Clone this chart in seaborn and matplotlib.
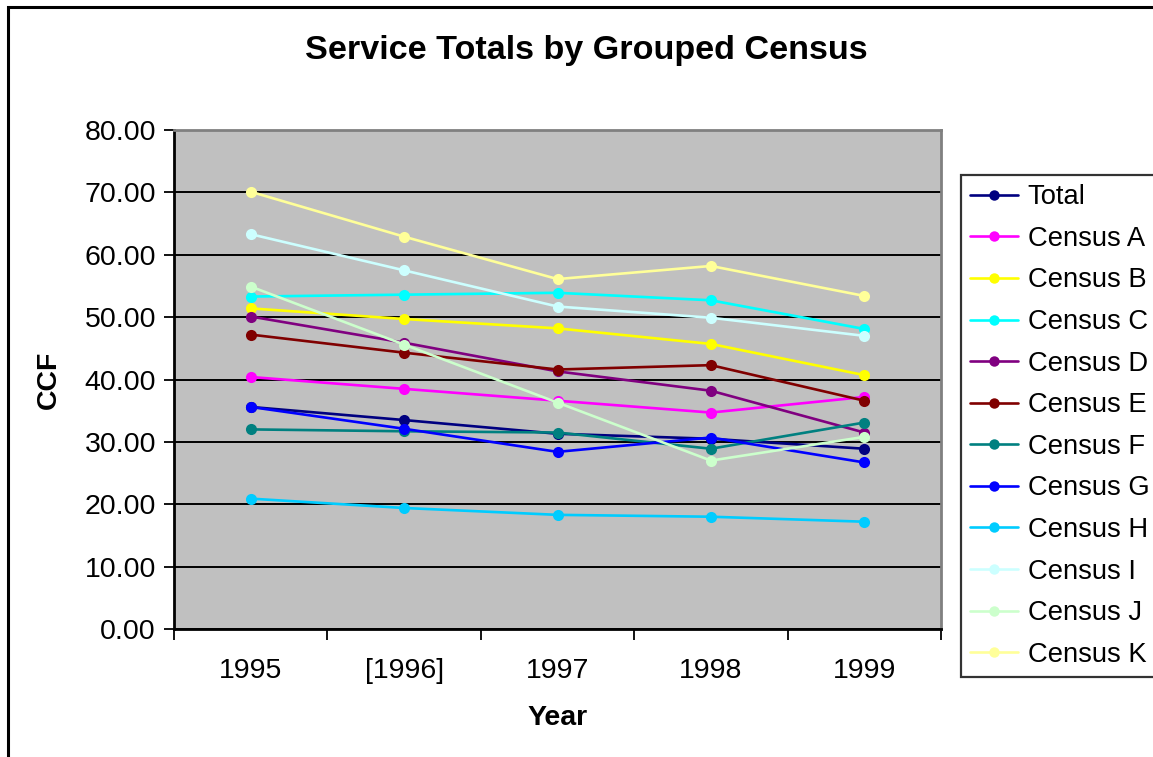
import matplotlib
matplotlib.use("Agg")
import matplotlib.pyplot as plt
from matplotlib.lines import Line2D
from matplotlib.patches import Rectangle
import seaborn as sns
import pandas as pd
import numpy as np

years = ["1995", "[1996]", "1997", "1998", "1999"]
series_names = ["Total", "Census A", "Census B", "Census C", "Census D", "Census E",
                "Census F", "Census G", "Census H", "Census I", "Census J", "Census K"]
total = [35.6, 33.5, 31.3, 30.5, 28.9]
census_a = [40.4, 38.5, 36.6, 34.7, 37.2]
census_b = [51.4, 49.7, 48.2, 45.7, 40.7]
census_c = [53.3, 53.6, 53.9, 52.7, 48.1]
census_d = [50.1, 45.9, 41.3, 38.2, 31.5]
census_e = [47.2, 44.3, 41.6, 42.3, 36.6]
census_f = [32.0, 31.7, 31.5, 28.9, 33.1]
census_g = [35.6, 32.1, 28.4, 30.7, 26.7]
census_h = [20.9, 19.4, 18.3, 18.0, 17.2]
census_i = [63.3, 57.5, 51.7, 49.9, 47.0]
census_j = [54.9, 45.6, 36.3, 27.0, 30.8]
census_k = [70.1, 62.9, 56.1, 58.2, 53.4]
all_values = [total, census_a, census_b, census_c, census_d, census_e,
              census_f, census_g, census_h, census_i, census_j, census_k]
colors = ["#000080", "#FF00FF", "#FFFF00", "#00FFFF", "#800080", "#800000",
          "#008080", "#0000FF", "#00CCFF", "#CCFFFF", "#CCFFCC", "#FFFF99"]

rows = []
for name, vals in zip(series_names, all_values):
    for i, v in enumerate(vals):
        rows.append({"series": name, "pos": i, "value": v})
df = pd.DataFrame(rows)

sns.set_style("white")
plt.rcParams["font.family"] = ["Liberation Sans", "DejaVu Sans"]
for k in ["text.color", "axes.labelcolor", "xtick.color", "ytick.color"]:
    plt.rcParams[k] = "black"

W, H = 1153, 757
fig = plt.figure(figsize=(W / 100, H / 100), dpi=100)
fig.patch.set_facecolor("white")

# outer chart frame (extends beyond right/bottom edges)
fig.add_artist(Rectangle((8 / W, -0.05), 1.2, (H - 7) / H + 0.05, transform=fig.transFigure,
                         fill=False, edgecolor="black", linewidth=2.2))

ax_l, ax_r, ax_t, ax_b = 174, 941, 130, 629
ax = fig.add_axes([ax_l / W, (H - ax_b) / H, (ax_r - ax_l) / W, (ax_b - ax_t) / H])
ax.set_facecolor("#C0C0C0")

sns.lineplot(data=df, x="pos", y="value", hue="series", hue_order=series_names,
             palette=dict(zip(series_names, colors)), marker="o", markersize=8,
             markeredgewidth=0, linewidth=1.9, ax=ax, legend=False, sort=False,
             errorbar=None)

ax.set_xlim(-0.5, 4.5)
ax.set_ylim(0, 80)
ax.set_yticks(np.arange(0, 81, 10))
ax.set_yticklabels([f"{v:.2f}" for v in np.arange(0, 81, 10)])
ax.yaxis.grid(True, color="black", linewidth=1.4)
ax.set_axisbelow(True)
ax.set_xticks(np.arange(-0.5, 5, 1))
ax.set_xticklabels([])
ax.set_xticks(np.arange(5), minor=True)
ax.set_xticklabels(years, minor=True)
ax.tick_params(axis="x", which="major", bottom=True, length=8, width=1.3, direction="out", color="black")
ax.tick_params(axis="x", which="minor", bottom=True, length=0, pad=21, labelsize=20.5)
ax.tick_params(axis="y", left=True, length=7, width=1.3, direction="out", color="black", labelsize=20.5, pad=6)
for s in ["left", "bottom"]:
    ax.spines[s].set_color("black")
    ax.spines[s].set_linewidth(2)
for s in ["top", "right"]:
    ax.spines[s].set_color("#808080")
    ax.spines[s].set_linewidth(2)

ax.set_xlabel("Year", fontsize=20.5, fontweight="bold", labelpad=15)
ax.set_ylabel("CCF", fontsize=20.5, fontweight="bold", labelpad=16)

fig.text(586 / W, 1 - 51 / H, "Service Totals by Grouped Census", ha="center", va="center",
         fontsize=24.6, fontweight="bold")

handles = [Line2D([0], [0], color=c, marker="o", markersize=7.5, markeredgewidth=0, linewidth=1.9)
           for c in colors]
leg = fig.legend(handles, series_names, loc="upper left",
                 bbox_to_anchor=(961 / W, 1 - 175 / H), fontsize=19.7, frameon=True,
                 fancybox=False, edgecolor="black", handlelength=1.75, handletextpad=0.35,
                 labelspacing=0.57, borderpad=0.34, borderaxespad=0)
leg.get_frame().set_linewidth(1.6)

fig.savefig("out.png", dpi=100, facecolor="white")
